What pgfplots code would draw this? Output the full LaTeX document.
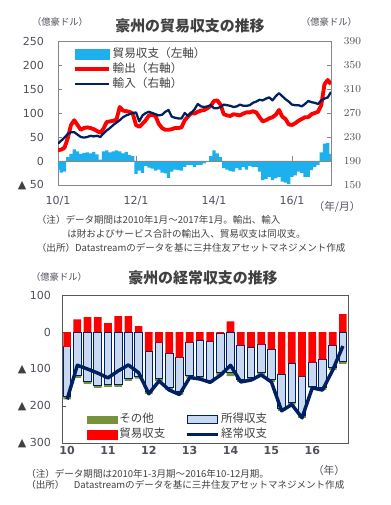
\documentclass[border=0pt]{standalone}
\usepackage{fontspec}
\setmainfont{Noto Sans CJK JP}
\newfontfamily\dv{DejaVu Sans}
\usepackage{pgfplots}
\pgfplotsset{compat=1.18}
\usepackage{pgfplotstable}

\definecolor{barcyan}{RGB}{30,176,236}
\definecolor{navy}{RGB}{0,32,96}
\definecolor{tickgray}{RGB}{80,80,92}
\definecolor{framegray}{RGB}{135,135,135}
\definecolor{darkframe}{RGB}{89,89,89}
\definecolor{othergreen}{RGB}{118,146,60}
\definecolor{lightblue}{RGB}{200,216,240}
\definecolor{titlegray}{RGB}{64,64,64}

% monthly, m=0 is 2010/1 ; exp, imp on right axis ; bal on left axis
\pgfplotstableread{
m exp imp bal
0 208 219 -18
1 209 224 -24
2 212 229 -22
3 228 235 8
4 250 238 15
5 258 238 24
6 250 234 20
7 242 230 15
8 245 229 17
9 246 230 18
10 245 232 16
11 243 231 19
12 240 232 14
13 237 230 3
14 244 236 20
15 255 241 22
16 256 245 18
17 257 250 20
18 259 254 22
19 280 258 20
20 274 263 16
21 273 266 19
22 272 268 13
23 269 270 10
24 250 271 -27
25 247 256 -20
26 252 266 -25
27 258 270 -10
28 266 272 -14
29 267 270 -16
30 265 268 -20
31 252 266 -18
32 245 267 -24
33 242 272 -26
34 242 275 -35
35 243 264 -22
36 245 262 -18
37 245 261 -19
38 246 261 -20
39 258 270 -12
40 264 265 -8
41 270 270 -8
42 269 276 -13
43 272 285 -8
44 274 281 -8
45 275 280 -5
46 278 281 -2
47 282 283 10
48 290 278 22
49 291 278 16
50 284 280 8
51 268 284 -15
52 266 283 -18
53 265 282 -21
54 268 280 -22
55 267 281 -15
56 266 284 -19
57 269 282 -13
58 271 282 -18
59 271 283 -10
60 273 287 -13
61 271 289 -12
62 263 292 -22
63 256 291 -40
64 258 294 -38
65 261 296 -33
66 263 291 -40
67 267 298 -36
68 275 303 -33
69 264 298 -43
70 260 293 -45
71 251 289 -48
72 250 284 -33
73 253 283 -30
74 257 283 -22
75 260 281 -25
76 263 285 -33
77 263 290 -33
78 268 288 -19
79 270 287 -13
80 272 285 -8
81 283 291 18
82 318 294 36
83 325 296 38
84 318 305 15
}\tradedata

% quarterly, q=0 is 2010Q1
\pgfplotstableread{
q trade income other ca
0 -40 -135 -7 -182
1 34 -117 -7 -90
2 40 -133 -7 -100
3 40 -144 -7 -111
4 24 -142 -6 -124
5 43 -142 -6 -105
6 43 -126 -6 -89
7 16 -120 -6 -110
8 -52 -108 -7 -167
9 -29 -97 -6 -132
10 -58 -93 -6 -157
11 -69 -93 -7 -169
12 -29 -88 -6 -123
13 -22 -99 -6 -127
14 -25 -105 -6 -136
15 -4 -106 -7 -117
16 29 -110 -9 -90
17 -36 -92 -7 -135
18 -41 -83 -6 -130
19 -34 -75 -7 -116
20 -47 -82 -6 -135
21 -114 -93 -6 -213
22 -84 -106 -6 -196
23 -120 -105 -7 -232
24 -83 -63 -5 -151
25 -74 -76 -7 -157
26 -36 -61 -6 -103
27 48 -79 -7 -38
}\cadata

\begin{document}
\begin{tikzpicture}
\useasboundingbox (0,0) rectangle (292.5pt,-378.75pt);

% ---------------- top chart : left axis (trade balance bars)
\begin{axis}[
  at={(43.5pt,-138.75pt)}, anchor=south west,
  scale only axis, width=204.75pt, height=108pt,
  xmin=0, xmax=84, ymin=-50, ymax=250,
  axis line style={framegray},
  xtick={0,24,48,72}, xticklabels={10/1,12/1,14/1,16/1},
  xtick style={draw=none},
  ytick={-50,0,50,100,150,200,250},
  yticklabels={{\textcolor{titlegray}{▲} 50},0,50,100,150,200,250},
  ytick pos=left, tick align=inside, major tick length=3pt,
  ytick style={framegray},
  ticklabel style={font=\fontsize{8.3}{10}\dv, text=tickgray},
  yticklabel style={xshift=-7pt},
  xticklabel style={yshift=-5pt},
]
\addplot[ybar, bar width=1, bar shift=0pt, fill=barcyan, draw=none] table[x=m,y=bal]{\tradedata};
\addplot[framegray, line width=0.6pt] coordinates {(0,0) (84,0)};
\draw[framegray, line width=0.6pt] (axis cs:24,0) -- (axis cs:24,10);
\draw[framegray, line width=0.6pt] (axis cs:48,0) -- (axis cs:48,10);
\draw[framegray, line width=0.6pt] (axis cs:72,0) -- (axis cs:72,10);
\end{axis}

% ---------------- top chart : right axis (exports, imports)
\begin{axis}[
  at={(43.5pt,-138.75pt)}, anchor=south west,
  scale only axis, width=204.75pt, height=108pt,
  xmin=0, xmax=84, ymin=150, ymax=390,
  hide x axis,
  axis y line*=right,
  axis line style={framegray},
  ytick={150,190,230,270,310,350,390},
  tick align=inside, major tick length=3pt,
  ytick style={framegray},
  ticklabel style={font=\fontsize{8.3}{10}\dv, text=tickgray},
  yticklabel style={xshift=6.2pt},
  legend style={at={(0.055,0.965)}, anchor=north west, draw=none, fill=none,
    font=\fontsize{8.7}{9.5}\selectfont, text=titlegray, row sep=0pt, inner sep=0pt,
    nodes={inner sep=1.2pt, text height=7pt, text depth=2pt}},
  legend cell align=left,
  legend image code/.code={\draw[#1] (0pt,0pt) -- (25.5pt,0pt);},
]
\addlegendimage{legend image code/.code={\fill[barcyan] (0pt,-3.7pt) rectangle (25.5pt,3.7pt);}}
\addlegendentry{貿易収支（左軸）}
\addplot[red, line width=2.9pt, line join=round] table[x=m,y=exp]{\tradedata};
\addlegendentry{輸出（右軸）}
\addplot[navy, line width=1.7pt, line join=round] table[x=m,y=imp]{\tradedata};
\addlegendentry{輸入（右軸）}
\end{axis}

\node[font=\fontsize{7}{8}\selectfont, text=tickgray] at (45pt,-16.5pt) {（億豪ドル）};
\node[font=\fontsize{7}{8}\selectfont, text=tickgray] at (246.75pt,-16.5pt) {（億豪ドル）};
\node[font=\fontsize{11.2}{12}\selectfont\bfseries, text=titlegray] at (142.5pt,-19.5pt) {豪州の貿易収支の推移};
\node[font=\fontsize{8}{9}\selectfont, text=tickgray] at (252.75pt,-155.25pt) {（年/月）};
\node[font=\fontsize{7.15}{8}\selectfont, text=titlegray, anchor=west, inner sep=0pt] at (27.5pt,-165pt) {（注）データ期間は2010年1月～2017年1月。輸出、輸入};
\node[font=\fontsize{7.15}{8}\selectfont, text=titlegray, anchor=west, inner sep=0pt] at (50.25pt,-175.5pt) {は財およびサービス合計の輸出入、貿易収支は同収支。};
\node[font=\fontsize{7.15}{8}\selectfont, text=titlegray, anchor=west, inner sep=0pt] at (27.5pt,-186pt) {（出所）Datastreamのデータを基に三井住友アセットマネジメント作成};

% ---------------- bottom chart : stacked negative parts
\begin{axis}[
  at={(46.5pt,-332.25pt)}, anchor=south west,
  scale only axis, width=214.5pt, height=111pt,
  xmin=0, xmax=28, ymin=-300, ymax=100,
  ybar stacked, bar width=0.75,
  axis line style={darkframe},
  xtick={0.5,4.5,8.5,12.5,16.5,20.5,24.5}, xticklabels={10,11,12,13,14,15,16},
  xtick style={draw=none},
  ytick={-300,-200,-100,0,100},
  yticklabels={{\textcolor{titlegray}{▲} 300},{\textcolor{titlegray}{▲} 200},{\textcolor{titlegray}{▲} 100},0,100},
  ytick pos=left, tick align=inside, major tick length=3pt,
  ytick style={darkframe},
  ticklabel style={font=\fontsize{8.3}{10}\dv, text=tickgray},
  xticklabel style={font=\fontsize{8.3}{10}\dv\bfseries, yshift=1pt},
  yticklabel style={xshift=-4.7pt},
]
\addplot[fill=red, draw=none] table[x expr=\thisrow{q}+0.5, y expr={min(\thisrow{trade},0)}]{\cadata};
\addplot[fill=lightblue, draw=navy, line width=0.7pt] table[x expr=\thisrow{q}+0.5, y=income]{\cadata};
\addplot[fill=othergreen, draw=none] table[x expr=\thisrow{q}+0.5, y=other]{\cadata};
\end{axis}

% ---------------- bottom chart : positive trade, current account line, legend
\begin{axis}[
  at={(46.5pt,-332.25pt)}, anchor=south west,
  scale only axis, width=214.5pt, height=111pt,
  xmin=0, xmax=28, ymin=-300, ymax=100,
  hide axis,
  legend style={at={(0.085,0.21)}, anchor=north west, draw=none, fill=none,
    font=\fontsize{8.6}{10}\selectfont, text=titlegray, row sep=0pt, inner sep=0pt,
    nodes={inner sep=1.2pt, text height=6.8pt, text depth=1.9pt},
    /tikz/column 2/.style={column sep=14pt}},
  legend columns=2,
  legend cell align=left,
  legend image code/.code={\draw[#1] (0pt,0pt) -- (23pt,0pt);},
]
\addplot[ybar, bar width=0.75, bar shift=0pt, fill=red, draw=none, forget plot]
  table[x expr=\thisrow{q}+0.5, y expr={max(\thisrow{trade},0)}]{\cadata};
\addlegendimage{legend image code/.code={\fill[othergreen] (0pt,-2.4pt) rectangle (23pt,2.4pt);}}
\addlegendentry{その他}
\addlegendimage{legend image code/.code={\draw[navy, fill=lightblue, line width=0.7pt] (0pt,-3pt) rectangle (23pt,3pt);}}
\addlegendentry{所得収支}
\addlegendimage{legend image code/.code={\fill[red] (0pt,-3.4pt) rectangle (23pt,3.4pt);}}
\addlegendentry{貿易収支}
\addplot[navy, line width=2.6pt, line join=round] table[x expr=\thisrow{q}+0.5, y=ca]{\cadata};
\addlegendentry{経常収支}
\end{axis}

\node[font=\fontsize{7}{8}\selectfont, text=tickgray] at (44.25pt,-207.75pt) {（億豪ドル）};
\node[font=\fontsize{11.2}{12}\selectfont\bfseries, text=titlegray] at (152.25pt,-208.5pt) {豪州の経常収支の推移};
\node[font=\fontsize{8}{9}\selectfont, text=tickgray] at (246.75pt,-352.5pt) {（年）};
\node[font=\fontsize{7.15}{8}\selectfont, text=titlegray, anchor=west, inner sep=0pt] at (19.5pt,-355.5pt) {（注）データ期間は2010年1-3月期～2016年10-12月期。};
\node[font=\fontsize{7.15}{8}\selectfont, text=titlegray, anchor=west, inner sep=0pt] at (19.5pt,-363.75pt) {（出所）　Datastreamのデータを基に三井住友アセットマネジメント作成};
\end{tikzpicture}
\end{document}
